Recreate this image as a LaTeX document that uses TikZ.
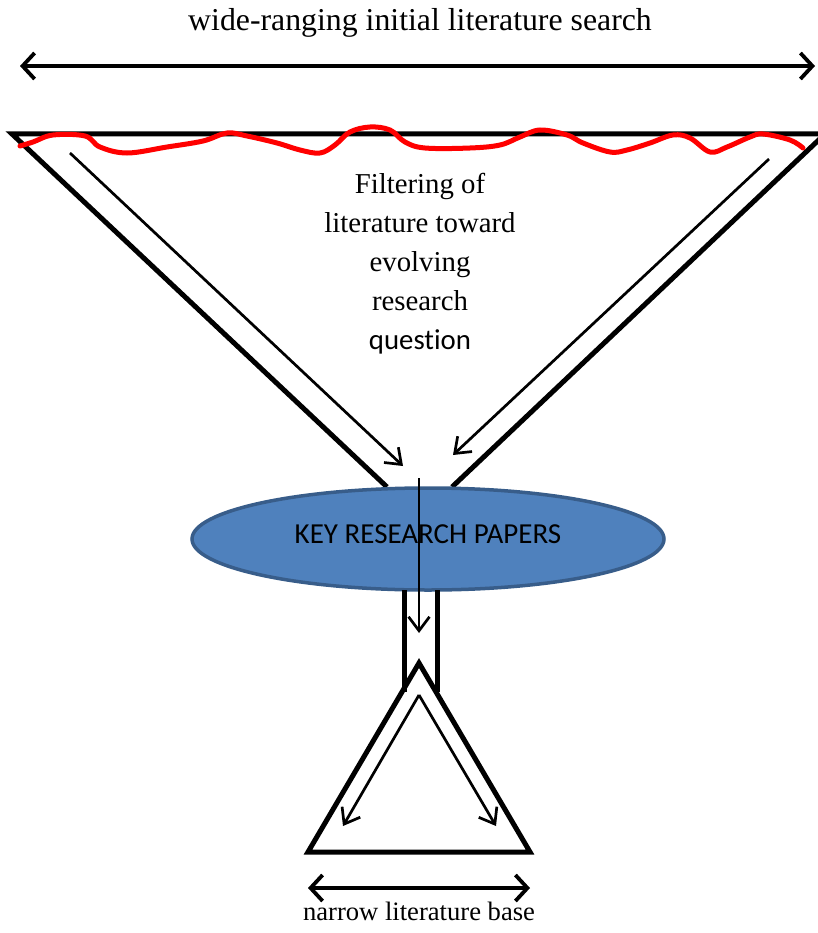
\documentclass[tikz,border=0pt]{standalone}
\usepackage{fontspec}
\setmainfont{Liberation Serif}
\newfontfamily\calibrifont[Ligatures=NoCommon]{Carlito}
\usepackage{xcolor}
\usetikzlibrary{shapes.geometric, arrows.meta, positioning, calc}
\definecolor{keyblue}{HTML}{4F81BD}
\definecolor{keyedge}{HTML}{385D8A}

\begin{document}
\begin{tikzpicture}[
    x=1pt, y=-1pt,
    funnel/.style={line width=5pt, line join=miter},
    span/.style={{Straight Barb[length=12pt, width=26pt]}-{Straight Barb[length=12pt, width=26pt]}, line width=3.8pt},
    flow/.style={-{Straight Barb[length=14pt, width=21pt]}, line width=2.7pt},
    ripple/.style={draw=red, line width=5pt, line cap=round},
    keyblock/.style={ellipse, draw=keyedge, line width=3.5pt, fill=keyblue, minimum width=472pt, minimum height=102pt, inner sep=0pt, text depth=10pt, font=\calibrifont\fontsize{29}{34}\selectfont},
    caption/.style={inner sep=0pt, anchor=base},
]
\useasboundingbox (0,0) rectangle (817,933);

% wide search span
\node[caption, font=\fontsize{31.8}{36}\selectfont] (search) at (420,31) {wide-ranging initial literature search};
\coordinate (wideL) at (20,66);
\coordinate (wideR) at (815,66);
\draw[span] (wideL) -- (wideR);

% funnel
\coordinate (rimL) at (12,134);
\coordinate (rimR) at (825,134);
\coordinate (neckL) at (387,487);
\coordinate (neckR) at (452,487);
\draw[funnel] (neckL) -- (rimL) -- (rimR) -- (neckR);
\coordinate (slideL) at (70,153);
\coordinate (dropL) at (403,466);
\coordinate (slideR) at (769,159);
\coordinate (dropR) at (453,455);
\draw[flow] (slideL) -- (dropL);
\draw[flow] (slideR) -- (dropR);
\draw[ripple] plot[smooth, tension=0.6] coordinates {(20,146) (33,142) (53,135) (85,136) (100,147) (127,153) (167,147) (203,141) (227,133) (247,136) (277,143) (300,150) (320,153) (335,145) (350,132) (370,127) (390,130) (405,142) (425,148) (470,148) (500,145) (520,137) (540,130) (567,135) (583,143) (610,152) (627,150) (650,143) (673,135) (690,138) (710,152) (727,147) (750,137) (763,134) (790,140) (803,148)};
\node[inner sep=0pt, anchor=north, align=center, font=\fontsize{28.8}{39}\selectfont] (filter) at (420,173) {Filtering of\\literature toward\\evolving\\research\\{\calibrifont question}};

% key papers
\node[keyblock] (key) at (428,539) {KEY RESEARCH PAPERS};
\coordinate (chuteTop) at (419,478);
\coordinate (chuteEnd) at (419,633);
\draw[flow] (chuteTop) -- (chuteEnd);

% stem and base triangle
\coordinate (stemLa) at (404,590);
\coordinate (stemLb) at (404,692);
\coordinate (stemRa) at (437,590);
\coordinate (stemRb) at (437,692);
\draw[funnel] (stemLa) -- (stemLb);
\draw[funnel] (stemRa) -- (stemRb);
\coordinate (apex) at (419,663);
\coordinate (baseL) at (308,852);
\coordinate (baseR) at (530,852);
\draw[funnel] (apex) -- (baseL) -- (baseR) -- cycle;
\coordinate (split) at (419,695);
\coordinate (spreadL) at (343,826);
\coordinate (spreadR) at (496,826);
\draw[flow] (split) -- (spreadL);
\draw[flow] (split) -- (spreadR);

% narrow base span
\coordinate (narrowL) at (308,888);
\coordinate (narrowR) at (530,888);
\draw[span] (narrowL) -- (narrowR);
\node[caption, font=\fontsize{26.6}{30}\selectfont] (base) at (419,920) {narrow literature base};
\end{tikzpicture}
\end{document}
